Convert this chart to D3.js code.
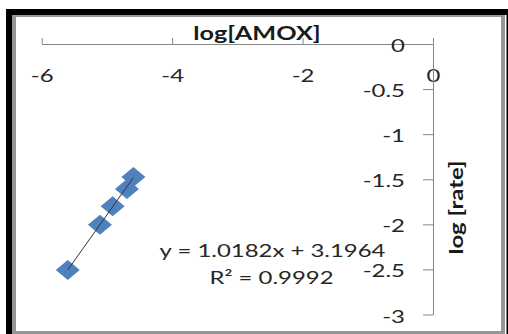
<!DOCTYPE html>
<html>
<head>
<meta charset="utf-8">
<script src="https://cdn.jsdelivr.net/npm/d3@7/dist/d3.min.js"></script>
<style>
  html, body { margin: 0; padding: 0; background: #fff; }
  svg { display: block; }
  text { font-family: Lato, "Open Sans", sans-serif; }
</style>
</head>
<body>
<script>
// log[AMOX] vs log[rate] measurements
const logAmox = [-5.60, -5.107, -4.912, -4.693, -4.594];
const logRate = [-2.507, -2.004, -1.799, -1.609, -1.475];
const xTicks = [-6, -4, -2, 0];
const yTicks = [0, -0.5, -1, -1.5, -2, -2.5, -3];
const fitSlope = 1.0182;
const fitIntercept = 3.1964;
const fitR2 = 0.9992;

const W = 508, H = 334;
const SX = 1.33; // horizontal widening applied to all lettering
const svg = d3.select("body").append("svg").attr("width", W).attr("height", H);

// frame: black shadow edge, gray border, white plot area
svg.append("rect").attr("x", 6).attr("y", 9).attr("width", 502).attr("height", 325).attr("fill", "#000");
svg.append("rect").attr("x", 12).attr("y", 15).attr("width", 494.5).attr("height", 319).attr("fill", "#fff");
svg.append("rect").attr("x", 12).attr("y", 15).attr("width", 493).attr("height", 319).attr("fill", "#969696");
svg.append("rect").attr("x", 16).attr("y", 17).attr("width", 485).attr("height", 314).attr("fill", "#fff");

const x = d3.scaleLinear().domain([-6, 0]).range([41.7, 433]);
const y = d3.scaleLinear().domain([0, -3]).range([44, 314.5]);

const axisColor = "#868686";
const labelColor = "#262626";

// widened text placed at (px, py)
function wideText(sel, px, py, str) {
  return sel.append("text")
    .attr("transform", `translate(${px},${py}) scale(${SX},1)`)
    .text(str);
}

// x axis along the top, ticks pointing up
const xAxis = svg.append("g").attr("transform", `translate(0,${y(0)})`)
  .call(d3.axisTop(x).tickValues(xTicks).tickSize(6).tickSizeOuter(0).tickFormat(d => String(d)));
xAxis.select(".domain").attr("stroke", axisColor);
xAxis.selectAll(".tick line").attr("stroke", axisColor);
xAxis.selectAll(".tick text")
  .attr("x", 0).attr("y", 0).attr("dy", null)
  .attr("transform", `translate(0,38) scale(${SX},1)`)
  .attr("fill", labelColor).attr("font-size", 18);

// y axis at x = 0, ticks pointing left
const yAxis = svg.append("g").attr("transform", `translate(${x(0)},0)`)
  .call(d3.axisLeft(y).tickValues(yTicks).tickSize(10).tickSizeOuter(0).tickFormat(d => String(d)));
yAxis.select(".domain").attr("stroke", axisColor);
yAxis.selectAll(".tick line").attr("stroke", axisColor);
yAxis.selectAll(".tick text")
  .attr("x", 0).attr("dy", "0.42em")
  .attr("transform", `translate(-28,0) scale(${SX},1)`)
  .attr("fill", labelColor).attr("font-size", 18);

// axis titles
wideText(svg, 257, 40, "log[AMOX]")
  .attr("text-anchor", "middle").attr("font-weight", "bold").attr("font-size", 19)
  .attr("fill", "#1a1a1a");
svg.append("text").attr("transform", `translate(463,207.5) rotate(-90) scale(${SX},1)`)
  .attr("text-anchor", "middle").attr("font-weight", "bold").attr("font-size", 18)
  .attr("fill", "#1a1a1a").text("log [rate]");

// linear trendline over the data range
const xMin = d3.min(logAmox), xMax = d3.max(logAmox);
const fitLine = () => svg.append("line")
  .attr("x1", x(xMin)).attr("y1", y(fitSlope * xMin + fitIntercept))
  .attr("x2", x(xMax)).attr("y2", y(fitSlope * xMax + fitIntercept))
  .attr("stroke", "#333").attr("stroke-width", 1);

// diamond markers
const pts = logAmox.map((v, i) => [v, logRate[i]]);
const hw = 12, hh = 10;
svg.append("g").selectAll("path").data(pts).join("path")
  .attr("d", d => {
    const cx = x(d[0]), cy = y(d[1]);
    return `M${cx},${cy - hh}L${cx + hw},${cy}L${cx},${cy + hh}L${cx - hw},${cy}Z`;
  })
  .attr("fill", "#4F81BD");

// trendline drawn over the markers
fitLine();

// fit equation
wideText(svg, 272.5, 257, `y = ${fitSlope.toFixed(4)}x + ${fitIntercept.toFixed(4)}`)
  .attr("text-anchor", "middle").attr("font-size", 18).attr("fill", labelColor);
wideText(svg, 271.5, 284, `R² = ${fitR2.toFixed(4)}`)
  .attr("text-anchor", "middle").attr("font-size", 18).attr("fill", labelColor);
</script>
</body>
</html>
